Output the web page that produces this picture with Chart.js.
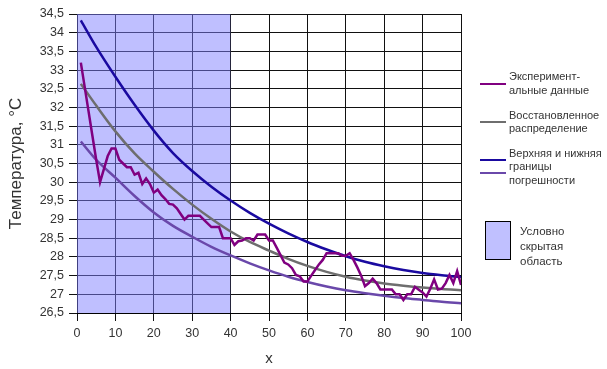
<!DOCTYPE html>
<html>
<head>
<meta charset="utf-8">
<script src="https://cdn.jsdelivr.net/npm/chart.js@4"></script>
<style>
  body { margin: 0; background: #fff; }
  #wrap { position: relative; width: 607px; height: 369px; font-family: "Liberation Sans", Arial, sans-serif; }
  .lg { position: absolute; font-size: 11px; line-height: 14px; color: #333; white-space: nowrap; }
  .ln { position: absolute; height: 2px; }
</style>
</head>
<body>
<div id="wrap">
  <canvas id="line-chart" width="607" height="369"></canvas>

  <div class="ln" style="left:480px; top:83px; width:26px; background:#800080;"></div>
  <div class="lg" style="left:509px; top:69px;">Эксперимент-</div>
  <div class="lg" style="left:509px; top:83px;">альные данные</div>

  <div class="ln" style="left:480px; top:121px; width:26px; background:#6e6e6e;"></div>
  <div class="lg" style="left:509px; top:108px;">Восстановленное</div>
  <div class="lg" style="left:509px; top:121px;">распределение</div>

  <div class="ln" style="left:480px; top:159px; width:26px; background:#1a0aa0;"></div>
  <div class="ln" style="left:480px; top:172px; width:26px; background:#6a48aa;"></div>
  <div class="lg" style="left:509px; top:146px;">Верхняя и нижняя</div>
  <div class="lg" style="left:509px; top:159px;">границы</div>
  <div class="lg" style="left:509px; top:173px;">погрешности</div>

  <div style="position:absolute; left:485px; top:221px; width:24px; height:37px; background:#c0c0ff; border:1px solid #000;"></div>
  <div class="lg" style="left:520px; top:224px; font-size:11.5px; line-height:15px;">Условно</div>
  <div class="lg" style="left:520px; top:239px; font-size:11.5px; line-height:15px;">скрытая</div>
  <div class="lg" style="left:520px; top:254px; font-size:11.5px; line-height:15px;">область</div>
</div>
<script>
// experimental data, one value per x = 1..100
var expValues = [
  33.2, 32.55, 31.9, 31.25, 30.6, 30.0, 30.35, 30.7, 30.9, 30.9,
  30.6, 30.5, 30.4, 30.4, 30.2, 30.25, 29.95, 30.1, 29.95, 29.72,
  29.8, 29.65, 29.55, 29.42, 29.4, 29.3, 29.15, 29.0, 29.1, 29.1,
  29.1, 29.1, 29.0, 28.9, 28.8, 28.8, 28.8, 28.5, 28.5, 28.5,
  28.32, 28.42, 28.44, 28.5, 28.5, 28.44, 28.6, 28.6, 28.6, 28.44,
  28.44, 28.25, 28.05, 27.85, 27.8, 27.7, 27.52, 27.48, 27.34, 27.34,
  27.5, 27.65, 27.8, 27.92, 28.1, 28.1, 28.1, 28.1, 28.03, 28.03,
  28.1, 27.92, 27.72, 27.5, 27.22, 27.3, 27.42, 27.3, 27.13, 27.13,
  27.13, 27.13, 27.0, 27.0, 26.85, 27.0, 27.0, 27.2, 27.12, 27.05,
  26.94, 27.15, 27.4, 27.13, 27.15, 27.3, 27.52, 27.3, 27.62, 27.25
];

// smooth curves, read at every 5 x
var curveX = [1, 5, 10, 15, 20, 25, 30, 35, 40, 45, 50, 55, 60, 65, 70, 75, 80, 85, 90, 95, 100];
var upperValues = [34.33, 33.62, 32.82, 32.07, 31.38, 30.78, 30.3, 29.88, 29.51, 29.18, 28.89, 28.63, 28.4, 28.2, 28.02, 27.87, 27.75, 27.65, 27.57, 27.51, 27.46];
var fittedValues = [32.63, 32.05, 31.36, 30.77, 30.28, 29.82, 29.4, 29.02, 28.68, 28.4, 28.17, 27.95, 27.76, 27.6, 27.47, 27.37, 27.29, 27.23, 27.18, 27.14, 27.11];
var lowerValues = [31.09, 30.6, 30.12, 29.63, 29.19, 28.83, 28.54, 28.27, 28.04, 27.83, 27.64, 27.47, 27.33, 27.21, 27.11, 27.03, 26.96, 26.9, 26.85, 26.8, 26.76];

// hidden region: x from 0 to 40
var hiddenX = [0, 40];
var hiddenTop = [34.5, 34.5];

var yMin = 26.5, yMax = 34.5, yStep = 0.5;
var xMin = 0, xMax = 100, xStep = 10;

function toPoints(xs, ys) {
  var pts = [];
  for (var i = 0; i < ys.length; i += 1) {
    pts.push({x: xs[i], y: ys[i]});
  }
  return pts;
}

var expPoints = [];
for (var i = 0; i < expValues.length; i += 1) {
  expPoints.push({x: i + 1, y: expValues[i]});
}

var smooth = {pointRadius: 0, borderWidth: 2.5, fill: false, cubicInterpolationMode: 'monotone'};

new Chart(document.getElementById("line-chart"), {
  type: 'line',
  data: {
    datasets: [
      {data: expPoints, borderColor: '#800080', borderWidth: 2.5, pointRadius: 0, tension: 0, fill: false, order: 0},
      Object.assign({data: toPoints(curveX, fittedValues), borderColor: '#6e6e6e', order: 1}, smooth),
      Object.assign({data: toPoints(curveX, upperValues), borderColor: '#1a0aa0', order: 1}, smooth),
      Object.assign({data: toPoints(curveX, lowerValues), borderColor: '#6a48aa', order: 1}, smooth),
      {data: toPoints(hiddenX, hiddenTop), borderWidth: 0, pointRadius: 0, fill: 'start',
       backgroundColor: 'rgba(128,128,255,0.5)', order: 10}
    ]
  },
  options: {
    responsive: false,
    animation: false,
    devicePixelRatio: 1,
    layout: {padding: {left: 0, right: 146, top: 14, bottom: 0}},
    plugins: {legend: {display: false}, tooltip: {enabled: false}},
    scales: {
      x: {
        type: 'linear', min: xMin, max: xMax,
        afterFit: function (scale) { scale.height = 56; },
        grid: {color: '#111', lineWidth: 1, tickLength: 8},
        border: {color: '#000', width: 1},
        ticks: {stepSize: xStep, color: '#333', padding: 5, maxRotation: 0,
                font: {family: 'Liberation Sans', size: 12.5}},
        title: {display: true, text: 'x', color: '#333', padding: {top: 0, bottom: 1},
                font: {family: 'Liberation Sans', size: 15}}
      },
      y: {
        type: 'linear', min: yMin, max: yMax,
        afterFit: function (scale) { scale.width = 77; },
        grid: {color: '#111', lineWidth: 1, tickLength: 8},
        border: {color: '#000', width: 1},
        ticks: {stepSize: yStep, color: '#333', padding: 5,
                font: {family: 'Liberation Sans', size: 12.5},
                callback: function (v) { return String(v).replace('.', ','); }},
        title: {display: true, text: 'Температура, °С', color: '#333', padding: {top: 6, bottom: 0},
                font: {family: 'Liberation Sans', size: 17}}
      }
    }
  }
});
</script>
</body>
</html>
